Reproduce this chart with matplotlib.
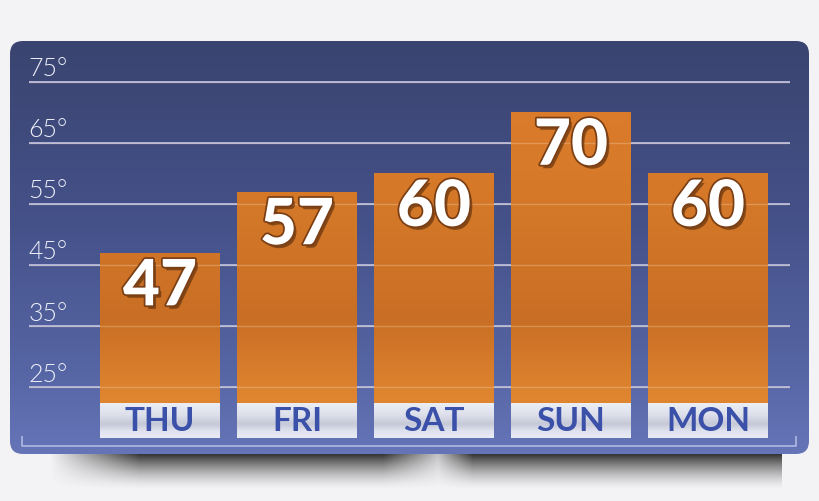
import numpy as np
import matplotlib
matplotlib.use("Agg")
import matplotlib.pyplot as plt
from matplotlib.patches import FancyBboxPatch
from matplotlib.colors import LinearSegmentedColormap
import matplotlib.patheffects as pe

# ---- data ----
days = ["THU", "FRI", "SAT", "SUN", "MON"]
temps = [47, 57, 60, 70, 60]
tick_values = [25, 35, 45, 55, 65, 75]

# ---- layout / style ----
W, H = 820, 501
fig = plt.figure(figsize=(W / 100, H / 100), dpi=100)
fig.patch.set_facecolor("#f3f3f5")

# background decoration axes in pixel units
bg = fig.add_axes([0, 0, 1, 1])
bg.set_xlim(0, W)
bg.set_ylim(H, 0)
bg.axis("off")

# shadow under panel
ys = np.linspace(452, 492, 60)
xs = np.linspace(0, W, 820)
fy = np.clip((490 - ys) / 36, 0, 1) ** 1.5
left = np.clip((xs - 50) / 90, 0, 1) * np.clip(1 - 0.75 * (xs - 383) / 55, 0.25, 1) * (xs < 438)
right = np.clip(0.25 + 0.75 * (xs - 438) / 35, 0, 1) * (xs >= 438) * (xs < 782)
gx = left + right
alpha = np.outer(fy, gx) * 0.9
shadow = np.zeros((len(ys), len(xs), 4))
shadow[..., :3] = 0.12
shadow[..., 3] = alpha
bg.imshow(shadow, extent=[0, W, 492, 452], origin="upper", aspect="auto", zorder=0)

# panel with gradient
panel = FancyBboxPatch((10, 41), 799, 413, boxstyle="round,pad=0,rounding_size=13",
                       facecolor="none", edgecolor="none", zorder=1)
bg.add_patch(panel)
pcmap = LinearSegmentedColormap.from_list(
    "panel", [(0, "#3a4470"), (0.45, "#45528a"), (0.8, "#5665a4"), (1, "#6575b8")])
grad = np.linspace(0, 1, 256)[:, None] * np.ones((1, 8))
im = bg.imshow(grad, extent=[10, 809, 454, 41], origin="upper", aspect="auto",
               cmap=pcmap, zorder=1)
im.set_clip_path(panel)

# bottom bracket line
bg.plot([22, 22, 796, 796], [437, 446, 446, 437], color="#aab4df", lw=1.3, zorder=2)
bg.set_xlim(0, W)
bg.set_ylim(H, 0)

# main chart axes
ax = fig.add_axes([29 / W, (H - 438) / H, (790 - 29) / W, (438 - 42) / H])
ax.set_facecolor("none")
y_lo, y_hi = 16.69, 81.5
ax.set_ylim(y_lo, y_hi)
ax.set_xlim(-0.956, 4.599)
for s in ax.spines.values():
    s.set_visible(False)
ax.set_yticks(tick_values)
ax.set_xticks([])
ax.tick_params(length=0, labelleft=False, labelbottom=False)
ax.yaxis.grid(True, color="#aab3de", lw=1.4)
ax.set_axisbelow(True)

label_top = 22.4
x = np.arange(len(days))
bar_w = 0.87
bars = ax.bar(x, np.array(temps) - label_top, bottom=label_top, width=bar_w,
              color="#d67828", zorder=2)
ocmap = LinearSegmentedColormap.from_list(
    "orange", [(0, "#e2872f"), (0.12, "#df842f"), (0.33, "#c96f25"),
               (0.5, "#cf7427"), (0.75, "#d77a29"), (1, "#db7c2b")])
ogr = np.linspace(1, 0, 256)[:, None] * np.ones((1, 4))
for b in bars:
    x0, x1 = b.get_x(), b.get_x() + b.get_width()
    oim = ax.imshow(ogr, extent=[x0, x1, y_lo, 75], origin="upper", aspect="auto",
                    cmap=ocmap, zorder=2.1)
    oim.set_clip_path(b)

# label boxes
boxes = ax.bar(x, label_top - y_lo, bottom=y_lo, width=bar_w, color="#dfe1ec", zorder=2)
lcmap = LinearSegmentedColormap.from_list(
    "lab", [(0, "#eceef6"), (0.35, "#dcdfea"), (0.6, "#c5c8d6"), (0.8, "#dfe2ee"), (1, "#e9ebf4")])
lgr = np.linspace(0, 1, 64)[:, None] * np.ones((1, 4))
for b in boxes:
    x0, x1 = b.get_x(), b.get_x() + b.get_width()
    lim = ax.imshow(lgr, extent=[x0, x1, y_lo, label_top], origin="upper", aspect="auto",
                    cmap=lcmap, zorder=2.1)
    lim.set_clip_path(b)

ax.set_xlim(-0.956, 4.599)
ax.set_ylim(y_lo, y_hi)

# faint gridlines over bars
for t in tick_values:
    ax.axhline(t, color="#f5d0a8", alpha=0.35, lw=1.0, zorder=2.5)

# y labels
for t in tick_values:
    ax.annotate(f"{t}°", (0, t), xycoords=ax.get_yaxis_transform(),
                xytext=(-0.5, 4.0), textcoords="offset points",
                ha="left", va="baseline", fontsize=18, color="#eef0fa",
                family="Lato", weight=300, zorder=5)

# day labels
for xi, d in zip(x, days):
    ax.text(xi, (label_top + y_lo) / 2 - 0.15, d, ha="center", va="center",
            fontsize=24, color="#3b50a8", family="Lato", weight="bold", zorder=5)

# values
for xi, v in zip(x, temps):
    ax.annotate(str(v), (xi, v), xytext=(0, -24.5), textcoords="offset points",
                ha="center", va="center", fontsize=46, color="white",
                family="Lato", weight="black", zorder=6,
                path_effects=[pe.SimplePatchShadow(offset=(2, -2.5), shadow_rgbFace="#3a1a05", alpha=0.5),
                              pe.Stroke(linewidth=2.5, foreground="#7a3e14"),
                              pe.Normal()])

fig.savefig("out.png", dpi=100, facecolor=fig.get_facecolor())
